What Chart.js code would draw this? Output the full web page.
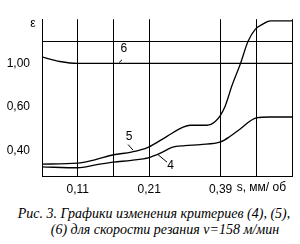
<!DOCTYPE html>
<html><head><meta charset="utf-8">
<script src="https://cdn.jsdelivr.net/npm/chart.js@4/dist/chart.umd.min.js"></script>
<style>
html,body{margin:0;padding:0;background:#fff;width:300px;height:244px;overflow:hidden}
#wrap{position:absolute;left:0;top:0;width:300px;height:200px}
#cap{position:absolute;left:0;top:206px;width:300px;text-align:center;font:italic 14px "Liberation Serif",serif;line-height:16px;color:#000;white-space:nowrap}
#cap span{display:block}
#l1{padding-left:8px}
#l2{padding-left:30px}
</style></head><body>
<div id="wrap"><canvas id="c" width="300" height="200"></canvas></div>
<div id="cap"><span id="l1">Рис. 3. Графики изменения критериев (4), (5),</span><span id="l2">(6) для скорости резания v=158 м/мин</span></div>
<script>
// x positions in grid-step units (0 = y axis, 7 = right edge); y in axis units
const xTickPos = [1, 3, 5];
const xTickLabels = ['0,11', '0,21', '0,39'];
const xUnitLabel = 's, мм/ об';
const yTickPos = [0.40, 0.60, 0.80];
const yTickLabels = ['0,40', '0,60', '1,00'];
const yGridExtra = [0.90];
const yAxisLabel = 'ε';

const curve5X = [0, 1, 1.5, 2, 2.5, 2.97, 3.5, 3.95, 4.15, 4.62, 4.85, 5.0, 5.13, 5.32, 5.55, 5.77, 5.97, 6.16, 6.39, 6.67, 7];
const curve5Y = [0.336, 0.340, 0.357, 0.379, 0.391, 0.413, 0.464, 0.506, 0.515, 0.515, 0.532, 0.562, 0.604, 0.698, 0.796, 0.902, 0.957, 0.979, 0.996, 0.996, 0.996];
const curve4X = [0, 1, 1.5, 2, 2.5, 3, 3.3, 3.64, 4.0, 4.43, 5.0, 5.27, 5.55, 6.0, 6.39, 7];
const curve4Y = [0.323, 0.319, 0.332, 0.345, 0.353, 0.366, 0.385, 0.413, 0.421, 0.426, 0.438, 0.464, 0.498, 0.549, 0.553, 0.553];
const curve6X = [0, 0.5, 1, 2, 3, 4, 5, 6, 7];
const curve6Y = [0.830, 0.809, 0.800, 0.800, 0.800, 0.800, 0.800, 0.800, 0.800];

const curveLabels = [
  {text: '5', x: 2.44, y: 0.464, lx1: 2.41, ly1: 0.426, lx2: 2.55, ly2: 0.400},
  {text: '4', x: 3.60, y: 0.328, lx1: 3.25, ly1: 0.379, lx2: 3.50, ly2: 0.345},
  {text: '6', x: 2.29, y: 0.868, lx1: 2.24, ly1: 0.817, lx2: 2.16, ly2: 0.804}
];

const pts = (xs, ys) => xs.map((x, i) => ({x: x, y: ys[i]}));
const tickFont = {family: '"Liberation Sans", sans-serif', size: 12};

const annot = {
  id: 'annot',
  afterDraw(chart) {
    const ctx = chart.ctx, xs = chart.scales.x, ys = chart.scales.y, a = chart.chartArea;
    ctx.save();
    ctx.fillStyle = '#000'; ctx.strokeStyle = '#000'; ctx.lineWidth = 1;
    ctx.font = '12px "Liberation Sans", sans-serif';
    ctx.textAlign = 'center'; ctx.textBaseline = 'middle';
    curveLabels.forEach(l => {
      ctx.fillText(l.text, xs.getPixelForValue(l.x), ys.getPixelForValue(l.y));
      ctx.beginPath();
      ctx.moveTo(xs.getPixelForValue(l.lx1), ys.getPixelForValue(l.ly1));
      ctx.lineTo(xs.getPixelForValue(l.lx2), ys.getPixelForValue(l.ly2));
      ctx.stroke();
    });
    ctx.fillText(yAxisLabel, a.left - 9, a.top + 4);
    ctx.textAlign = 'left';
    ctx.fillText(xUnitLabel, xs.getPixelForValue(5.45), a.bottom + 12);
    ctx.restore();
  }
};

new Chart(document.getElementById('c'), {
  type: 'line',
  data: {
    datasets: [
      {data: pts(curve5X, curve5Y), borderColor: '#000', borderWidth: 1.3, pointRadius: 0, cubicInterpolationMode: 'monotone', fill: false},
      {data: pts(curve4X, curve4Y), borderColor: '#000', borderWidth: 1.3, pointRadius: 0, cubicInterpolationMode: 'monotone', fill: false},
      {data: pts(curve6X, curve6Y), borderColor: '#000', borderWidth: 1.3, pointRadius: 0, cubicInterpolationMode: 'monotone', fill: false}
    ]
  },
  options: {
    responsive: false, animation: false, devicePixelRatio: 1,
    layout: {padding: {top: 6, right: 8, left: 0, bottom: 0}},
    plugins: {legend: {display: false}, tooltip: {enabled: false}},
    scales: {
      x: {
        type: 'linear', min: 0, max: 7,
        afterBuildTicks: s => { s.ticks = [0,1,2,3,4,5,6,7].map(v => ({value: v})); },
        afterFit: s => { s.height = 24; },
        ticks: {
          autoSkip: false, maxRotation: 0, padding: 6, color: '#000', font: tickFont,
          callback: v => { const i = xTickPos.indexOf(v); return i >= 0 ? xTickLabels[i] : ''; }
        },
        grid: {
          drawTicks: false, lineWidth: 1,
          color: c => (c.tick && (c.tick.value === 4 || c.tick.value === 0)) ? 'rgba(0,0,0,0)' : '#000'
        },
        border: {display: true, color: '#000', width: 1}
      },
      y: {
        type: 'linear', min: 0.281, max: 1.004,
        afterBuildTicks: s => { s.ticks = yTickPos.concat(yGridExtra).map(v => ({value: v})); },
        afterFit: s => { s.width = 42; },
        ticks: {
          autoSkip: false, padding: 12, color: '#000', font: tickFont,
          callback: v => { const i = yTickPos.indexOf(v); return i >= 0 ? yTickLabels[i] : ''; }
        },
        grid: {
          drawTicks: false, lineWidth: 1,
          color: c => (c.tick && yGridExtra.indexOf(c.tick.value) >= 0) ? '#000' : 'rgba(0,0,0,0)'
        },
        border: {display: true, color: '#000', width: 1}
      }
    }
  },
  plugins: [annot]
});
</script>
</body></html>
